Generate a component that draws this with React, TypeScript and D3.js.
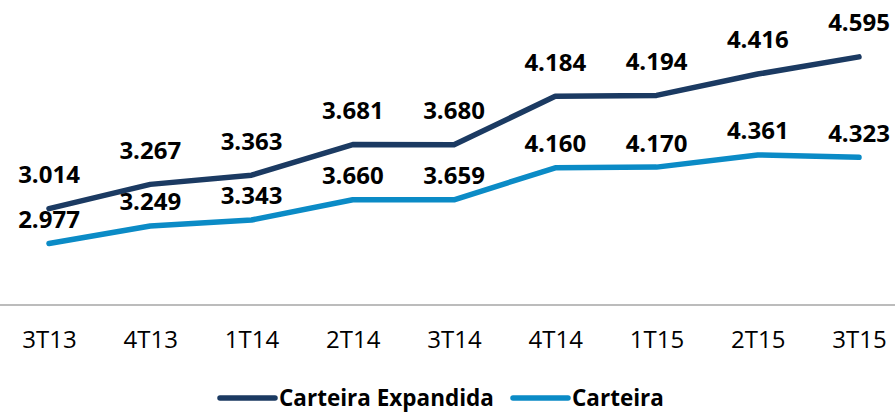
import React, { useEffect, useRef } from 'react';
import * as d3 from 'd3';

const quarters = ['3T13', '4T13', '1T14', '2T14', '3T14', '4T14', '1T15', '2T15', '3T15'];
const carteiraExpandida = [3014, 3267, 3363, 3681, 3680, 4184, 4194, 4416, 4595];
const carteira = [2977, 3249, 3343, 3660, 3659, 4160, 4170, 4361, 4323];
const seriesNames = ['Carteira Expandida', 'Carteira'];

const App = () => {
    const svgRef = useRef<SVGSVGElement>(null);

    useEffect(() => {
        const width = 895;
        const height = 412;
        const top = 18;
        const bottom = 306;
        const font = "'Open Sans', sans-serif";
        const colors = ['#1b3a62', '#0b8bc6'];

        const svg = d3.select(svgRef.current);
        svg.selectAll('*').remove();
        svg.attr('width', width).attr('height', height);

        const x = d3.scalePoint<string>().domain(quarters).range([49, 859]);
        // two value axes (primary and secondary), both hidden
        const yLeft = d3.scaleLinear().domain([2000, 5000]).range([bottom, top]);
        const yRight = d3.scaleLinear().domain([2000, 6500]).range([bottom, top]);

        const series = [
            { name: seriesNames[0], values: carteiraExpandida, y: yLeft, color: colors[0], dy: -34 },
            { name: seriesNames[1], values: carteira, y: yRight, color: colors[1], dy: -24 },
        ];

        // category axis
        const axis = svg.append('g')
            .attr('transform', `translate(0, ${bottom - 1})`)
            .call(d3.axisBottom(x).tickSize(0).tickPadding(26));
        axis.select('.domain').attr('d', `M0,0H${width}`).attr('stroke', '#a6a6a6').attr('stroke-width', 1.5);
        axis.selectAll('text')
            .attr('font-family', font)
            .attr('font-size', 24)
            .attr('fill', '#000');

        series.forEach(s => {
            const line = d3.line<number>()
                .x((_, i) => x(quarters[i]) as number)
                .y(v => s.y(v));

            svg.append('path')
                .datum(s.values)
                .attr('fill', 'none')
                .attr('stroke', s.color)
                .attr('stroke-width', 5.5)
                .attr('stroke-linejoin', 'round')
                .attr('stroke-linecap', 'round')
                .attr('d', line);
        });

        series.forEach(s => {
            svg.append('g')
                .selectAll('text')
                .data(s.values)
                .join('text')
                .attr('x', (_, i) => x(quarters[i]) as number)
                .attr('y', v => s.y(v) + s.dy)
                .attr('dy', '0.35em')
                .attr('text-anchor', 'middle')
                .attr('font-family', font)
                .attr('font-weight', 700)
                .attr('font-size', 24)
                .attr('fill', '#000')
                .text(v => d3.format(',')(v).replace(',', '.'));
        });

        // legend
        const legendStarts = [220, 513];
        const legend = svg.append('g').attr('transform', 'translate(0, 398)');
        series.forEach((s, i) => {
            legend.append('line')
                .attr('x1', legendStarts[i]).attr('x2', legendStarts[i] + 55)
                .attr('y1', 0).attr('y2', 0)
                .attr('stroke', s.color)
                .attr('stroke-width', 5.5)
                .attr('stroke-linecap', 'round');
            legend.append('text')
                .attr('x', legendStarts[i] + 59)
                .attr('y', 0)
                .attr('dy', '0.35em')
                .attr('font-family', font)
                .attr('font-weight', 700)
                .attr('font-size', 22.5)
                .attr('fill', '#000')
                .text(s.name);
        });
    }, []);

    return (
        <svg ref={svgRef} style={{ position: 'absolute', left: 0, top: 0, background: '#fff' }}></svg>
    );
};

export default App;
